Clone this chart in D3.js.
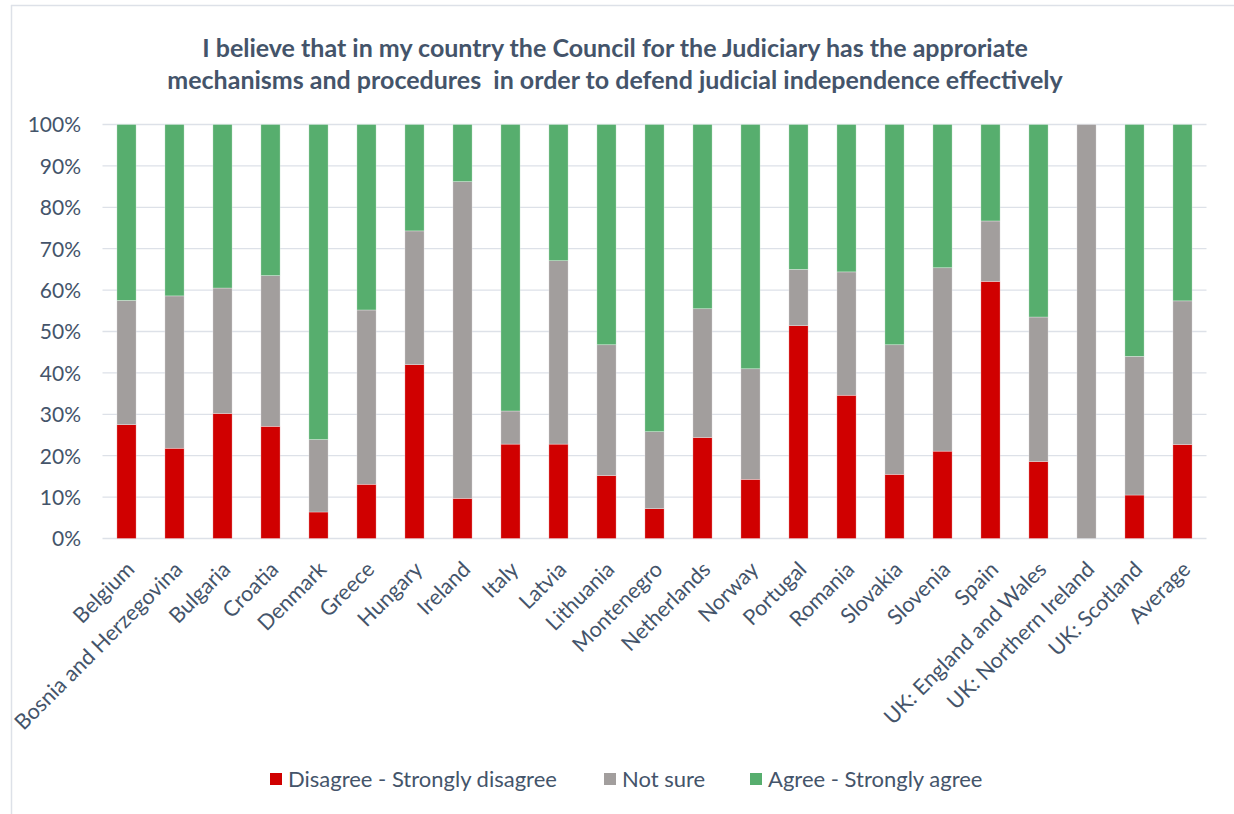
<!DOCTYPE html>
<html><head><meta charset="utf-8">
<script src="https://cdn.jsdelivr.net/npm/d3@7"></script>
<style>body{margin:0;background:#fff}svg{display:block}</style>
</head><body>
<svg id="c" width="1234" height="814"></svg>
<script>
const categories = ["Belgium","Bosnia and Herzegovina","Bulgaria","Croatia","Denmark","Greece","Hungary","Ireland","Italy","Latvia","Lithuania","Montenegro","Netherlands","Norway","Portugal","Romania","Slovakia","Slovenia","Spain","UK: England and Wales","UK: Northern Ireland","UK: Scotland","Average"];
const disagree = [27.5,21.8,30.2,27.1,6.4,13.1,42.0,9.7,22.8,22.8,15.2,7.2,24.4,14.3,51.4,34.6,15.5,21.1,62.1,18.6,0,10.5,22.7];
const notSure  = [30.0,36.8,30.3,36.4,17.5,42.1,32.3,76.5,8.0,44.3,31.6,18.6,31.1,26.7,13.6,29.8,31.3,44.3,14.6,34.9,100,33.5,34.7];
const agree    = [42.5,41.4,39.5,36.5,76.1,44.8,25.7,13.8,69.2,32.9,53.2,74.2,44.5,59.0,35.0,35.6,53.2,34.6,23.3,46.5,0,56.0,42.6];
const seriesNames = ["Disagree - Strongly disagree","Not sure","Agree - Strongly agree"];
const seriesKeys = ["disagree","notSure","agree"];
const colors = ["#D00000","#A29E9D","#57AE6E"];
const yTicks = [0,10,20,30,40,50,60,70,80,90,100];
const titleLines = ["I believe that in my country the Council for the Judiciary has the approriate","mechanisms and procedures  in order to defend judicial independence effectively"];

const svg = d3.select("#c");
const font = "Lato, 'Open Sans', sans-serif";
const textColor = "#44546A";

// frame
svg.append("line").attr("x1",11).attr("x2",1234).attr("y1",5.5).attr("y2",5.5).attr("stroke","#DDE1E8").attr("stroke-width",1.5);
svg.append("line").attr("x1",11.5).attr("x2",11.5).attr("y1",5).attr("y2",814).attr("stroke","#DDE1E8").attr("stroke-width",1.5);

const data = categories.map((c,i)=>({cat:c, disagree:disagree[i], notSure:notSure[i], agree:agree[i]}));
const stacked = d3.stack().keys(seriesKeys)(data);

const x = d3.scaleBand().domain(categories).range([102.5,1206.5]).paddingInner(0.6).paddingOuter(0.3);
const y = d3.scaleLinear().domain([0,100]).range([538.5,124.5]);

// grid
svg.append("g").selectAll("line").data(yTicks).join("line")
  .attr("x1",102.5).attr("x2",1206.5)
  .attr("y1",d=>y(d)).attr("y2",d=>y(d))
  .attr("stroke","#DDE1E8").attr("stroke-width",1.3);

// y axis labels
const yAxis = d3.axisLeft(y).tickValues(yTicks).tickFormat(d=>d+"%").tickSize(0).tickPadding(0);
const ya = svg.append("g").attr("transform","translate(81,0)").call(yAxis);
ya.select(".domain").remove();
ya.selectAll("text").attr("font-family",font).attr("font-size",21).attr("fill",textColor).attr("dy","0.35em");

// bars
svg.append("g").selectAll("g").data(stacked).join("g")
  .attr("fill",(d,i)=>colors[i])
  .selectAll("rect").data(d=>d).join("rect")
  .attr("x",d=>x(d.data.cat))
  .attr("width",x.bandwidth())
  .attr("y",d=>y(d[1]))
  .attr("height",d=>Math.max(0,y(d[0])-y(d[1])))
  .attr("stroke","#ffffff").attr("stroke-opacity",0.5).attr("stroke-width",0.6);

// x axis labels
const xAxis = d3.axisBottom(x).tickSize(0).tickPadding(0);
const xa = svg.append("g").attr("transform","translate(0,538.5)").call(xAxis);
xa.select(".domain").remove();
xa.selectAll("text")
  .attr("font-family",font).attr("font-size",21.5).attr("fill",textColor)
  .attr("text-anchor","end")
  .attr("transform","translate(4,27) rotate(-45)")
  .attr("dy","0.35em");

// title
svg.append("g").selectAll("text").data(titleLines).join("text")
  .attr("x",615).attr("y",(d,i)=>57+i*32)
  .attr("text-anchor","middle")
  .style("white-space","pre")
  .attr("font-family",font).attr("font-weight","bold").attr("font-size",25)
  .attr("fill",textColor)
  .text(d=>d);

// legend
const legX = [270,604,750];
const lg = svg.append("g").selectAll("g").data(seriesNames).join("g")
  .attr("transform",(d,i)=>`translate(${legX[i]},773)`);
lg.append("rect").attr("width",12).attr("height",12).attr("fill",(d,i)=>colors[i]);
lg.append("text").attr("x",18).attr("y",6).attr("dy","0.35em")
  .attr("font-family",font).attr("font-size",22).attr("fill",textColor)
  .text(d=>d);
</script>
</body></html>
